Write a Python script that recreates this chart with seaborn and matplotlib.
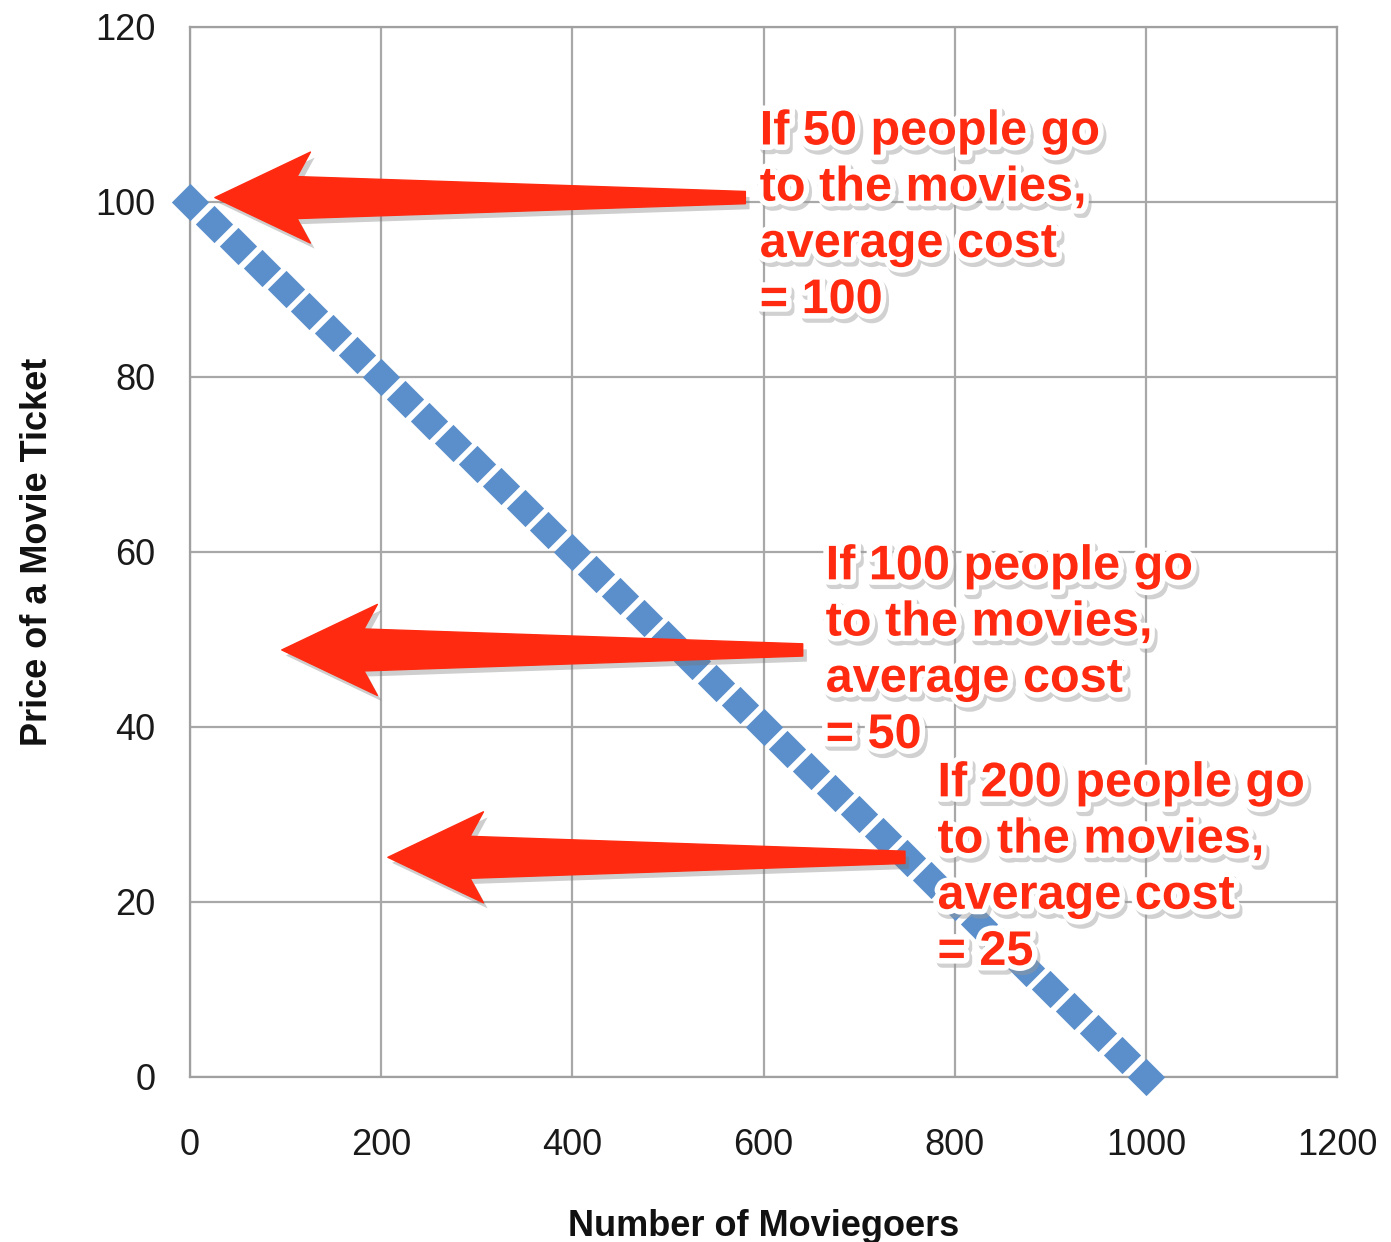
import numpy as np
import pandas as pd
import matplotlib
matplotlib.use("Agg")
import matplotlib.pyplot as plt
import matplotlib.patheffects as pe
import seaborn as sns

sns.set_style("white")
plt.rcParams["font.family"] = ["Liberation Sans", "DejaVu Sans"]

# Data
moviegoers = [0, 25, 50, 75, 100, 125, 150, 175, 200, 225, 250, 275, 300, 325,
              350, 375, 400, 425, 450, 475, 500, 525, 550, 575, 600, 625, 650,
              675, 700, 725, 750, 775, 800, 825, 850, 875, 900, 925, 950, 975,
              1000]
ticket_price = [100, 97.5, 95, 92.5, 90, 87.5, 85, 82.5, 80, 77.5, 75, 72.5, 70,
                67.5, 65, 62.5, 60, 57.5, 55, 52.5, 50, 47.5, 45, 42.5, 40, 37.5,
                35, 32.5, 30, 27.5, 25, 22.5, 20, 17.5, 15, 12.5, 10, 7.5, 5, 2.5,
                0]

notes = [
    "If 50 people go\nto the movies,\naverage cost\n= 100",
    "If 100 people go\nto the movies,\naverage cost\n= 50",
    "If 200 people go\nto the movies,\naverage cost\n= 25",
]
note_x = [596, 665, 782]
note_y = [87.3, 37.6, 12.8]   # baseline of the last line

arrow_tip_x = [26, 96, 207]
arrow_tail_x = [581, 641, 748]
arrow_y = [100.5, 48.8, 25.1]

x_ticks = [0, 200, 400, 600, 800, 1000, 1200]
y_ticks = [0, 20, 40, 60, 80, 100, 120]

df = pd.DataFrame({"Moviegoers": moviegoers, "Price": ticket_price})

fig = plt.figure(figsize=(13.91, 12.42), dpi=100)
ax = fig.add_axes([0.1366, 0.1329, 0.8246, 0.8454])

sns.scatterplot(data=df, x="Moviegoers", y="Price", marker="D", s=360,
                color="#5b8fcb", linewidth=0, ax=ax, zorder=3, clip_on=False)

ax.set_xlim(0, 1200)
ax.set_ylim(0, 120)
ax.set_xticks(x_ticks)
ax.set_yticks(y_ticks)
ax.grid(True, color="#a8a8a8", linewidth=1.6)
ax.set_axisbelow(True)
for sp in ax.spines.values():
    sp.set_color("#a0a0a0")
    sp.set_linewidth(1.6)
ax.tick_params(axis="both", colors="#a0a0a0", labelcolor="#1a1a1a",
               labelsize=26, length=9, width=1.6, direction="out")
ax.tick_params(axis="y", pad=16)
ax.tick_params(axis="x", pad=28)

ax.set_xlabel("Number of Moviegoers", fontsize=26, fontweight="bold",
              color="#111111")
ax.set_ylabel("Price of a Movie Ticket", fontsize=26, fontweight="bold",
              color="#111111")
ax.xaxis.set_label_coords(0.5, -0.126)
ax.yaxis.set_label_coords(-0.118, 0.5)

# arrows (tapered shafts)
head_len = 94
head_half = 5.2
shaft_half = 2.4
tail_half = 0.7
arrow_fx = [pe.SimplePatchShadow(offset=(3, -4), shadow_rgbFace="0.45", alpha=0.35),
            pe.Normal()]
for xt, xe, y in zip(arrow_tip_x, arrow_tail_x, arrow_y):
    xb = xt + head_len
    poly = plt.Polygon(
        [(xt, y), (xb + 6, y + head_half), (xb - 8, y + shaft_half),
         (xe, y + tail_half), (xe, y - tail_half), (xb - 8, y - shaft_half),
         (xb + 6, y - head_half)],
        closed=True, facecolor="#ff2a10", edgecolor="#ff2a10",
        linewidth=1, joinstyle="round", zorder=4)
    poly.set_path_effects(arrow_fx)
    ax.add_patch(poly)

text_fx = [pe.Stroke(linewidth=8, foreground="#9a9a9a", alpha=0.45, offset=(2, -3)),
           pe.Stroke(linewidth=8, foreground="white"),
           pe.Normal()]
for txt, x, y in zip(notes, note_x, note_y):
    ax.text(x, y, txt, fontsize=35, fontweight="bold", color="#ff2a10",
            ha="left", va="baseline", linespacing=1.32, zorder=5,
            path_effects=text_fx)

fig.savefig("out.png", dpi=100)
